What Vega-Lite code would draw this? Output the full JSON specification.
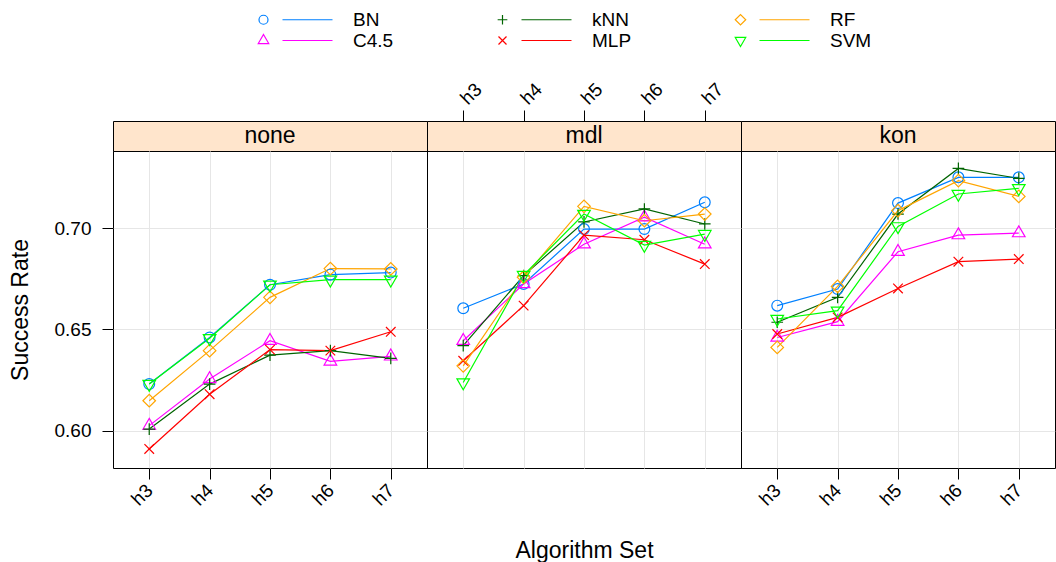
{
  "$schema": "https://vega.github.io/schema/vega-lite/v6.json",
  "padding": {"left": 8, "top": 9, "right": 0, "bottom": 0},
  "background": "white",
  "bounds": "flush",
  "config": {
    "font": "Liberation Sans",
    "view": {"stroke": "black", "strokeWidth": 1},
    "axis": {"labelColor": "black", "tickColor": "black", "titleColor": "black", "labelFont": "Liberation Sans", "titleFont": "Liberation Sans", "titleFontWeight": "normal", "gridColor": "#e6e6e6", "gridWidth": 1, "domain": false, "tickWidth": 1}
  },
  "datasets": {
    "d": [
      {"panel": "none", "algo": "BN", "set": "h3", "rate": 0.623},
      {"panel": "none", "algo": "BN", "set": "h4", "rate": 0.646},
      {"panel": "none", "algo": "BN", "set": "h5", "rate": 0.672},
      {"panel": "none", "algo": "BN", "set": "h6", "rate": 0.677},
      {"panel": "none", "algo": "BN", "set": "h7", "rate": 0.678},
      {"panel": "none", "algo": "C4.5", "set": "h3", "rate": 0.6025},
      {"panel": "none", "algo": "C4.5", "set": "h4", "rate": 0.6255},
      {"panel": "none", "algo": "C4.5", "set": "h5", "rate": 0.6444},
      {"panel": "none", "algo": "C4.5", "set": "h6", "rate": 0.6342},
      {"panel": "none", "algo": "C4.5", "set": "h7", "rate": 0.6367},
      {"panel": "none", "algo": "kNN", "set": "h3", "rate": 0.6008},
      {"panel": "none", "algo": "kNN", "set": "h4", "rate": 0.623},
      {"panel": "none", "algo": "kNN", "set": "h5", "rate": 0.6373},
      {"panel": "none", "algo": "kNN", "set": "h6", "rate": 0.6395},
      {"panel": "none", "algo": "kNN", "set": "h7", "rate": 0.6357},
      {"panel": "none", "algo": "MLP", "set": "h3", "rate": 0.591},
      {"panel": "none", "algo": "MLP", "set": "h4", "rate": 0.618},
      {"panel": "none", "algo": "MLP", "set": "h5", "rate": 0.640},
      {"panel": "none", "algo": "MLP", "set": "h6", "rate": 0.6395},
      {"panel": "none", "algo": "MLP", "set": "h7", "rate": 0.6488},
      {"panel": "none", "algo": "RF", "set": "h3", "rate": 0.6148},
      {"panel": "none", "algo": "RF", "set": "h4", "rate": 0.6395},
      {"panel": "none", "algo": "RF", "set": "h5", "rate": 0.6658},
      {"panel": "none", "algo": "RF", "set": "h6", "rate": 0.680},
      {"panel": "none", "algo": "RF", "set": "h7", "rate": 0.6798},
      {"panel": "none", "algo": "SVM", "set": "h3", "rate": 0.623},
      {"panel": "none", "algo": "SVM", "set": "h4", "rate": 0.6456},
      {"panel": "none", "algo": "SVM", "set": "h5", "rate": 0.672},
      {"panel": "none", "algo": "SVM", "set": "h6", "rate": 0.6745},
      {"panel": "none", "algo": "SVM", "set": "h7", "rate": 0.6745},
      {"panel": "mdl", "algo": "BN", "set": "h3", "rate": 0.6604},
      {"panel": "mdl", "algo": "BN", "set": "h4", "rate": 0.6724},
      {"panel": "mdl", "algo": "BN", "set": "h5", "rate": 0.6995},
      {"panel": "mdl", "algo": "BN", "set": "h6", "rate": 0.6995},
      {"panel": "mdl", "algo": "BN", "set": "h7", "rate": 0.7127},
      {"panel": "mdl", "algo": "C4.5", "set": "h3", "rate": 0.6444},
      {"panel": "mdl", "algo": "C4.5", "set": "h4", "rate": 0.6724},
      {"panel": "mdl", "algo": "C4.5", "set": "h5", "rate": 0.692},
      {"panel": "mdl", "algo": "C4.5", "set": "h6", "rate": 0.7053},
      {"panel": "mdl", "algo": "C4.5", "set": "h7", "rate": 0.692},
      {"panel": "mdl", "algo": "kNN", "set": "h3", "rate": 0.642},
      {"panel": "mdl", "algo": "kNN", "set": "h4", "rate": 0.6765},
      {"panel": "mdl", "algo": "kNN", "set": "h5", "rate": 0.703},
      {"panel": "mdl", "algo": "kNN", "set": "h6", "rate": 0.7094},
      {"panel": "mdl", "algo": "kNN", "set": "h7", "rate": 0.702},
      {"panel": "mdl", "algo": "MLP", "set": "h3", "rate": 0.6345},
      {"panel": "mdl", "algo": "MLP", "set": "h4", "rate": 0.6617},
      {"panel": "mdl", "algo": "MLP", "set": "h5", "rate": 0.6965},
      {"panel": "mdl", "algo": "MLP", "set": "h6", "rate": 0.6942},
      {"panel": "mdl", "algo": "MLP", "set": "h7", "rate": 0.6822},
      {"panel": "mdl", "algo": "RF", "set": "h3", "rate": 0.632},
      {"panel": "mdl", "algo": "RF", "set": "h4", "rate": 0.6757},
      {"panel": "mdl", "algo": "RF", "set": "h5", "rate": 0.7107},
      {"panel": "mdl", "algo": "RF", "set": "h6", "rate": 0.7036},
      {"panel": "mdl", "algo": "RF", "set": "h7", "rate": 0.7069},
      {"panel": "mdl", "algo": "SVM", "set": "h3", "rate": 0.6238},
      {"panel": "mdl", "algo": "SVM", "set": "h4", "rate": 0.6768},
      {"panel": "mdl", "algo": "SVM", "set": "h5", "rate": 0.7069},
      {"panel": "mdl", "algo": "SVM", "set": "h6", "rate": 0.6916},
      {"panel": "mdl", "algo": "SVM", "set": "h7", "rate": 0.697},
      {"panel": "kon", "algo": "BN", "set": "h3", "rate": 0.6617},
      {"panel": "kon", "algo": "BN", "set": "h4", "rate": 0.6699},
      {"panel": "kon", "algo": "BN", "set": "h5", "rate": 0.7123},
      {"panel": "kon", "algo": "BN", "set": "h6", "rate": 0.725},
      {"panel": "kon", "algo": "BN", "set": "h7", "rate": 0.725},
      {"panel": "kon", "algo": "C4.5", "set": "h3", "rate": 0.646},
      {"panel": "kon", "algo": "C4.5", "set": "h4", "rate": 0.6538},
      {"panel": "kon", "algo": "C4.5", "set": "h5", "rate": 0.6883},
      {"panel": "kon", "algo": "C4.5", "set": "h6", "rate": 0.6965},
      {"panel": "kon", "algo": "C4.5", "set": "h7", "rate": 0.6975},
      {"panel": "kon", "algo": "kNN", "set": "h3", "rate": 0.6535},
      {"panel": "kon", "algo": "kNN", "set": "h4", "rate": 0.6658},
      {"panel": "kon", "algo": "kNN", "set": "h5", "rate": 0.7069},
      {"panel": "kon", "algo": "kNN", "set": "h6", "rate": 0.7294},
      {"panel": "kon", "algo": "kNN", "set": "h7", "rate": 0.7245},
      {"panel": "kon", "algo": "MLP", "set": "h3", "rate": 0.6477},
      {"panel": "kon", "algo": "MLP", "set": "h4", "rate": 0.6559},
      {"panel": "kon", "algo": "MLP", "set": "h5", "rate": 0.6702},
      {"panel": "kon", "algo": "MLP", "set": "h6", "rate": 0.6834},
      {"panel": "kon", "algo": "MLP", "set": "h7", "rate": 0.6847},
      {"panel": "kon", "algo": "RF", "set": "h3", "rate": 0.6411},
      {"panel": "kon", "algo": "RF", "set": "h4", "rate": 0.6712},
      {"panel": "kon", "algo": "RF", "set": "h5", "rate": 0.7086},
      {"panel": "kon", "algo": "RF", "set": "h6", "rate": 0.7234},
      {"panel": "kon", "algo": "RF", "set": "h7", "rate": 0.7156},
      {"panel": "kon", "algo": "SVM", "set": "h3", "rate": 0.6551},
      {"panel": "kon", "algo": "SVM", "set": "h4", "rate": 0.6592},
      {"panel": "kon", "algo": "SVM", "set": "h5", "rate": 0.7008},
      {"panel": "kon", "algo": "SVM", "set": "h6", "rate": 0.7168},
      {"panel": "kon", "algo": "SVM", "set": "h7", "rate": 0.7196}
    ]
  },
  "columns": 3,
  "spacing": 0,
  "resolve": {"scale": {"color": "independent", "shape": "independent"}},
  "concat": [
    {
      "width": 314, "height": 30,
      "view": {"fill": "#ffe5cc", "stroke": "black"},
      "layer": [
        {
          "data": {"values": [{"panel": "none"}]},
          "mark": {"type": "text", "fontSize": 23, "font": "Liberation Sans", "color": "black", "baseline": "middle"},
          "encoding": {"text": {"field": "panel"}}
        },
        {
          "data": {"name": "d"},
          "transform": [{"filter": "datum.panel === 'none' && datum.set === 'h3'"}],
          "mark": {"type": "point", "filled": false, "opacity": 0, "size": 100, "strokeWidth": 1.2},
          "encoding": {
            "color": {"field": "algo", "type": "nominal",
              "scale": {"domain": ["BN", "C4.5", "kNN", "MLP", "RF", "SVM"], "range": ["#0080ff", "#ff00ff", "#006400", "#ff0000", "#ffa500", "#00ff00"]},
              "legend": {"orient": "none", "legendX": 141, "legendY": -111, "title": null, "columns": 3, "columnPadding": 99, "rowPadding": 1, "padding": 0, "symbolSize": 100, "symbolStrokeWidth": 1.2, "symbolOpacity": 1, "labelOffset": 80, "labelFontSize": 19, "labelFont": "Liberation Sans", "labelColor": "black"}},
            "shape": {"field": "algo", "type": "nominal",
              "scale": {"domain": ["BN", "C4.5", "kNN", "MLP", "RF", "SVM"], "range": [
                "M-0.9,0A0.9,0.9,0,1,1,0.9,0A0.9,0.9,0,1,1,-0.9,0ZM3.8,0L13.8,0",
                "M0,-1.21L1.05,0.61L-1.05,0.61ZM3.8,0L13.8,0",
                "M-0.97,0L0.97,0M0,-0.97L0,0.97M3.8,0L13.8,0",
                "M-0.8,-0.8L0.8,0.8M-0.8,0.8L0.8,-0.8M3.8,0L13.8,0",
                "M-1.05,0L0,-1.05L1.05,0L0,1.05ZM3.8,0L13.8,0",
                "M0,1.21L1.05,-0.61L-1.05,-0.61ZM3.8,0L13.8,0"]},
              "legend": {"orient": "none", "legendX": 141, "legendY": -111, "title": null, "columns": 3, "columnPadding": 99, "rowPadding": 1, "padding": 0, "symbolSize": 100, "symbolStrokeWidth": 1.2, "symbolOpacity": 1, "labelOffset": 80, "labelFontSize": 19, "labelFont": "Liberation Sans", "labelColor": "black"}}
          }
        }
      ]
    },
    {
      "width": 314, "height": 30,
      "view": {"fill": "#ffe5cc", "stroke": "black"},
      "layer": [
        {
          "data": {"values": [{"panel": "mdl"}]},
          "mark": {"type": "text", "fontSize": 23, "font": "Liberation Sans", "color": "black", "baseline": "middle"},
          "encoding": {"text": {"field": "panel"}}
        },
        {
          "data": {"name": "d"},
          "transform": [{"filter": "datum.panel === 'mdl'"}],
          "mark": {"type": "point", "opacity": 0},
          "encoding": {
            "x": {"field": "set", "type": "nominal",
              "scale": {"type": "point", "padding": 0.6, "domain": ["h3", "h4", "h5", "h6", "h7"]},
              "axis": {"orient": "top", "title": null, "labelAngle": -45, "labelAlign": "left", "labelBaseline": "middle", "labelPadding": 9, "tickSize": 11, "labelFontSize": 19, "grid": false}}
          }
        }
      ]
    },
    {
      "width": 314, "height": 30,
      "view": {"fill": "#ffe5cc", "stroke": "black"},
      "data": {"values": [{"panel": "kon"}]},
      "mark": {"type": "text", "fontSize": 23, "font": "Liberation Sans", "color": "black", "baseline": "middle"},
      "encoding": {"text": {"field": "panel"}}
    },
    {
      "width": 314, "height": 317,
      "data": {"name": "d"},
      "transform": [{"filter": "datum.panel === 'none'"}],
      "encoding": {
        "x": {"field": "set", "type": "nominal",
          "scale": {"type": "point", "padding": 0.6, "domain": ["h3", "h4", "h5", "h6", "h7"]},
          "axis": {"orient": "bottom", "title": null, "labelAngle": -45, "labelAlign": "right", "labelBaseline": "middle", "labelPadding": 8, "tickSize": 11, "labelFontSize": 19, "grid": true}},
        "y": {"field": "rate", "type": "quantitative",
          "scale": {"domain": [0.5816, 0.738], "nice": false, "zero": false},
          "axis": {"orient": "left", "title": "Success Rate", "titleFontSize": 23, "titlePadding": 22, "values": [0.6, 0.65, 0.7], "format": ".2f", "tickSize": 11, "labelPadding": 11, "labelFontSize": 19, "grid": true}},
        "color": {"field": "algo", "type": "nominal",
          "scale": {"domain": ["BN", "C4.5", "kNN", "MLP", "RF", "SVM"], "range": ["#0080ff", "#ff00ff", "#006400", "#ff0000", "#ffa500", "#00ff00"]},
          "legend": null}
      },
      "layer": [
        {"mark": {"type": "line", "strokeWidth": 1.2}},
        {"mark": {"type": "point", "filled": false, "size": 144, "strokeWidth": 1.2, "opacity": 1},
         "encoding": {"shape": {"field": "algo", "type": "nominal", "legend": null,
           "scale": {"domain": ["BN", "C4.5", "kNN", "MLP", "RF", "SVM"], "range": ["M-0.9,0A0.9,0.9,0,1,1,0.9,0A0.9,0.9,0,1,1,-0.9,0Z", "M0,-1.21L1.05,0.61L-1.05,0.61Z", "M-0.97,0L0.97,0M0,-0.97L0,0.97", "M-0.8,-0.8L0.8,0.8M-0.8,0.8L0.8,-0.8", "M-1.05,0L0,-1.05L1.05,0L0,1.05Z", "M0,1.21L1.05,-0.61L-1.05,-0.61Z"]}}}}
      ]
    },
    {
      "width": 314, "height": 317,
      "data": {"name": "d"},
      "transform": [{"filter": "datum.panel === 'mdl'"}],
      "encoding": {
        "x": {"field": "set", "type": "nominal",
          "scale": {"type": "point", "padding": 0.6, "domain": ["h3", "h4", "h5", "h6", "h7"]},
          "axis": {"orient": "bottom", "title": "Algorithm Set", "titleFontSize": 23, "titlePadding": 71, "labels": false, "ticks": false, "grid": true}},
        "y": {"field": "rate", "type": "quantitative",
          "scale": {"domain": [0.5816, 0.738], "nice": false, "zero": false},
          "axis": {"orient": "left", "title": null, "values": [0.6, 0.65, 0.7], "labels": false, "ticks": false, "grid": true}},
        "color": {"field": "algo", "type": "nominal",
          "scale": {"domain": ["BN", "C4.5", "kNN", "MLP", "RF", "SVM"], "range": ["#0080ff", "#ff00ff", "#006400", "#ff0000", "#ffa500", "#00ff00"]},
          "legend": null}
      },
      "layer": [
        {"mark": {"type": "line", "strokeWidth": 1.2}},
        {"mark": {"type": "point", "filled": false, "size": 144, "strokeWidth": 1.2, "opacity": 1},
         "encoding": {"shape": {"field": "algo", "type": "nominal", "legend": null,
           "scale": {"domain": ["BN", "C4.5", "kNN", "MLP", "RF", "SVM"], "range": ["M-0.9,0A0.9,0.9,0,1,1,0.9,0A0.9,0.9,0,1,1,-0.9,0Z", "M0,-1.21L1.05,0.61L-1.05,0.61Z", "M-0.97,0L0.97,0M0,-0.97L0,0.97", "M-0.8,-0.8L0.8,0.8M-0.8,0.8L0.8,-0.8", "M-1.05,0L0,-1.05L1.05,0L0,1.05Z", "M0,1.21L1.05,-0.61L-1.05,-0.61Z"]}}}}
      ]
    },
    {
      "width": 314, "height": 317,
      "data": {"name": "d"},
      "transform": [{"filter": "datum.panel === 'kon'"}],
      "encoding": {
        "x": {"field": "set", "type": "nominal",
          "scale": {"type": "point", "padding": 0.6, "domain": ["h3", "h4", "h5", "h6", "h7"]},
          "axis": {"orient": "bottom", "title": null, "labelAngle": -45, "labelAlign": "right", "labelBaseline": "middle", "labelPadding": 8, "tickSize": 11, "labelFontSize": 19, "grid": true}},
        "y": {"field": "rate", "type": "quantitative",
          "scale": {"domain": [0.5816, 0.738], "nice": false, "zero": false},
          "axis": {"orient": "right", "title": null, "values": [0.6, 0.65, 0.7], "labels": false, "tickSize": 11, "grid": true}},
        "color": {"field": "algo", "type": "nominal",
          "scale": {"domain": ["BN", "C4.5", "kNN", "MLP", "RF", "SVM"], "range": ["#0080ff", "#ff00ff", "#006400", "#ff0000", "#ffa500", "#00ff00"]},
          "legend": null}
      },
      "layer": [
        {"mark": {"type": "line", "strokeWidth": 1.2}},
        {"mark": {"type": "point", "filled": false, "size": 144, "strokeWidth": 1.2, "opacity": 1},
         "encoding": {"shape": {"field": "algo", "type": "nominal", "legend": null,
           "scale": {"domain": ["BN", "C4.5", "kNN", "MLP", "RF", "SVM"], "range": ["M-0.9,0A0.9,0.9,0,1,1,0.9,0A0.9,0.9,0,1,1,-0.9,0Z", "M0,-1.21L1.05,0.61L-1.05,0.61Z", "M-0.97,0L0.97,0M0,-0.97L0,0.97", "M-0.8,-0.8L0.8,0.8M-0.8,0.8L0.8,-0.8", "M-1.05,0L0,-1.05L1.05,0L0,1.05Z", "M0,1.21L1.05,-0.61L-1.05,-0.61Z"]}}}}
      ]
    }
  ]
}
